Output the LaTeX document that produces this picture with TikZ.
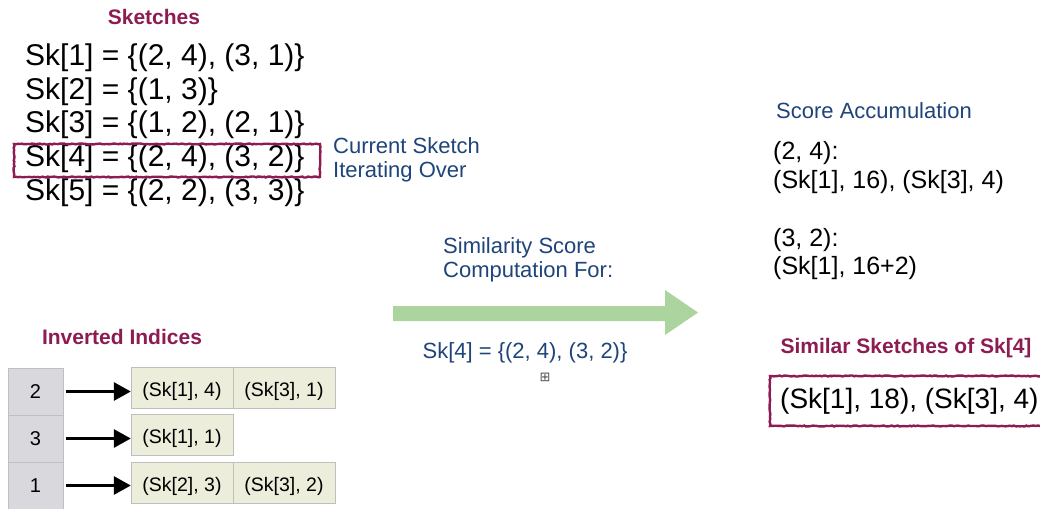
\documentclass[tikz,border=0pt]{standalone}
\usepackage{fontspec}
\setmainfont{Liberation Sans}
\newfontfamily\dejavu{DejaVu Sans}
\usetikzlibrary{positioning,arrows.meta,decorations.pathmorphing}
\definecolor{skmaroon}{RGB}{140,28,82}
\definecolor{skblue}{RGB}{30,68,122}
\definecolor{skgreen}{RGB}{172,212,158}
\definecolor{cellfill}{RGB}{236,237,219}
\definecolor{keyfill}{RGB}{217,217,221}
\def\fsz#1{\fontsize{#1}{#1}\selectfont}

\tikzset{
  title/.style={font=\bfseries\fsz{21}, text=skmaroon, inner sep=0},
  note/.style={font=\fsz{22}, text=skblue, inner sep=0, align=left},
  skline/.style={font=\fsz{30}, anchor=west, inner sep=0},
  score/.style={font=\fsz{25}, anchor=west, inner sep=0},
  keycell/.style={draw=black!25, fill=keyfill, minimum width=55pt, minimum height=47pt, font=\fsz{20}, inner sep=0},
  entry/.style={draw=black!25, fill=cellfill, minimum width=102pt, minimum height=41pt, font=\fsz{19.5}, inner sep=0, text height=17pt, text depth=0pt},
  ptr/.style={line width=3pt, -{Triangle[length=17pt,width=18pt]}, shorten <=3pt},
  roughbox/.style={draw=skmaroon, line width=2.4pt, decorate, decoration={random steps, segment length=2pt, amplitude=0.5pt}}
}

\begin{document}
\begin{tikzpicture}[x=1pt,y=-1pt]
  \useasboundingbox (0,0) rectangle (1040,508);

  % sketch list
  \node[title] (skt) at (154,17) {Sketches};
  \node[skline] (sk1) at (25,58) {Sk[1] = \{(2, 4), (3, 1)\}};
  \node[skline] (sk2) at (25,91.5) {Sk[2] = \{(1, 3)\}};
  \node[skline] (sk3) at (25,125) {Sk[3] = \{(1, 2), (2, 1)\}};
  \node[skline] (sk4) at (25,159) {Sk[4] = \{(2, 4), (3, 2)\}};
  \node[skline] (sk5) at (25,192.5) {Sk[5] = \{(2, 2), (3, 3)\}};
  \draw[roughbox] (14,144) rectangle (320,177);
  \node[note, anchor=west] (cur) at (333,160) {Current Sketch\\[2pt]Iterating Over};

  % inverted indices
  \node[title] (inv) at (122,337) {Inverted Indices};
  \node[keycell] (k2) at (35.5,391.5) {2};
  \node[keycell] (k3) at (35.5,438.5) {3};
  \node[keycell] (k1) at (35.5,485.5) {1};
  \node[entry] (e21) at (182,387.5) {(Sk[1], 4)};
  \node[entry] (e22) at (284,387.5) {(Sk[3], 1)};
  \node[entry] (e31) at (182,435) {(Sk[1], 1)};
  \node[entry] (e11) at (182,483) {(Sk[2], 3)};
  \node[entry] (e12) at (284,483) {(Sk[3], 2)};
  \draw[ptr] (k2.east) -- (k2.east -| e21.west);
  \draw[ptr] (k3.east) -- (k3.east -| e31.west);
  \draw[ptr] (k1.east) -- (k1.east -| e11.west);

  % big arrow in the middle
  \node[note, anchor=west] (sim) at (443,260) {Similarity Score\\[2pt]Computation For:};
  \fill[skgreen] (393,306) -- (665,306) -- (665,290) -- (698,312.5) -- (665,335) -- (665,321) -- (393,321) -- cycle;
  \node[note] (cq) at (525,353) {Sk[4] = \{(2, 4), (3, 2)\}};
  \node[font=\dejavu\fsz{13}, text=black!70, inner sep=0] (plus) at (545,377) {⊞};

  % accumulated scores
  \node[note, anchor=west] (acc) at (776,111) {Score Accumulation};
  \node[score] (p24) at (773,153) {(2, 4):};
  \node[score] (s24) at (773,182) {(Sk[1], 16), (Sk[3], 4)};
  \node[score] (p32) at (773,240) {(3, 2):};
  \node[score] (s32) at (773,268) {(Sk[1], 16+2)};

  % result
  \node[title] (res) at (906,348) {Similar Sketches of Sk[4]};
  \node[skline, font=\fsz{28}] (out) at (780,401) {(Sk[1], 18), (Sk[3], 4)};
  \draw[roughbox] (770,376) rectangle (1060,426);
\end{tikzpicture}
\end{document}
